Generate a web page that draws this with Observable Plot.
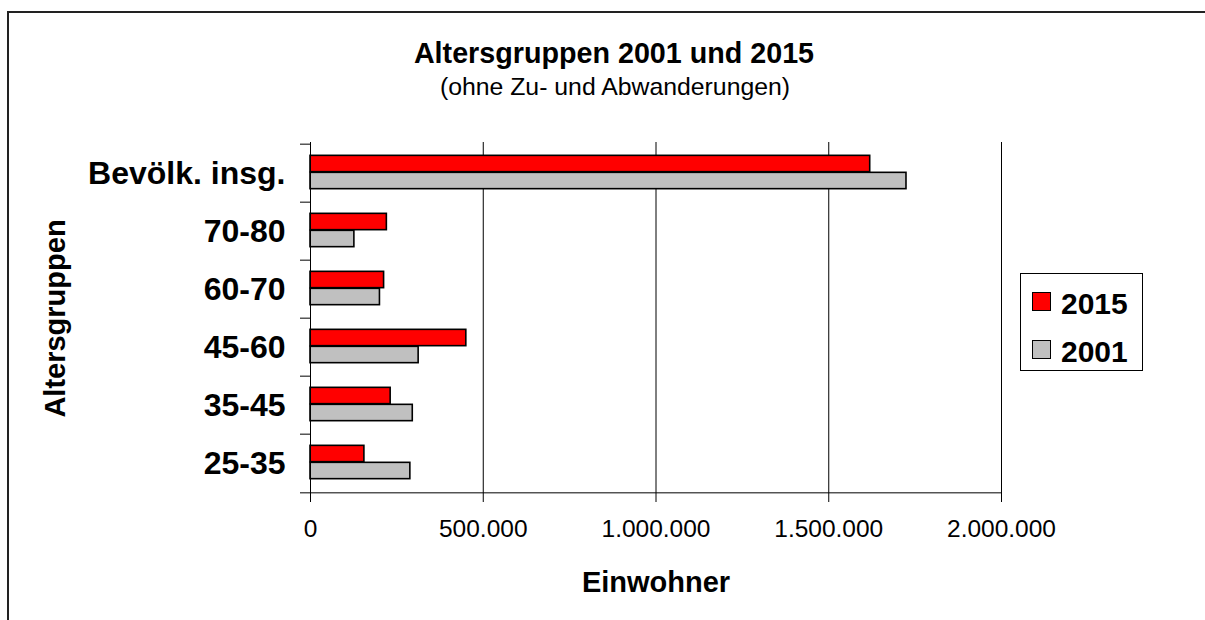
<!DOCTYPE html>
<html>
<head>
<meta charset="utf-8">
<script src="https://cdn.jsdelivr.net/npm/d3@7"></script>
<script src="https://cdn.jsdelivr.net/npm/@observablehq/plot@0.6"></script>
<style>
  html, body { margin: 0; padding: 0; background: #fff; }
  #wrap { position: relative; width: 1205px; height: 620px; overflow: hidden; font-family: "Liberation Sans", Arial, sans-serif; color: #000; }
  #border { position: absolute; left: 7px; top: 11px; width: 1300px; height: 700px; border-left: 2px solid #222; border-top: 2px solid #222; }
  .t { position: absolute; white-space: nowrap; }
  #chart { position: absolute; left: 0; top: 0; }
  .sw { position: absolute; width: 17px; height: 17px; border: 1.5px solid #000; }
</style>
</head>
<body>
<div id="wrap">
  <div id="border"></div>
  <div id="chart"></div>
</div>
<script>
// ---- data ----
const categories = ["Bevölk. insg.", "70-80", "60-70", "45-60", "35-45", "25-35"];
const values2015 = [1620000, 221000, 213000, 451000, 232000, 156000];
const values2001 = [1725000, 127000, 201000, 313000, 296000, 289000];
const years = ["2015", "2001"];
const colors = ["#ff0000", "#c0c0c0"];
const xTicks = [0, 500000, 1000000, 1500000, 2000000];
const title = "Altersgruppen 2001 und 2015";
const subtitle = "(ohne Zu- und Abwanderungen)";
const xLabel = "Einwohner";
const yLabel = "Altersgruppen";

// ---- layout ----
const W = 1205, H = 620;
const mL = 310, mR = 204, mT = 142, mB = 126;
const bw = (H - mT - mB) / categories.length;
const barH = 17, gap = (bw - 2 * barH) / 2 - 1;

const de = d3.formatLocale({decimal: ",", thousands: ".", grouping: [3], currency: ["", " €"]});
const fmt = de.format(",d");

const rows2015 = categories.map((c, i) => ({cat: c, v: values2015[i]}));
const rows2001 = categories.map((c, i) => ({cat: c, v: values2001[i]}));

const tickLen = 8 / (W - mL - mR) * (xTicks[xTicks.length - 1] - xTicks[0]);

const chart = Plot.plot({
  width: W, height: H,
  marginLeft: mL, marginRight: mR, marginTop: mT, marginBottom: mB,
  style: {fontFamily: "'Liberation Sans', Arial, sans-serif", color: "#000", background: "transparent", overflow: "visible"},
  x: {domain: [xTicks[0], xTicks[xTicks.length - 1]]},
  y: {domain: categories, padding: 0},
  marks: [
    Plot.ruleX(xTicks.slice(1), {stroke: "#000", strokeWidth: 1}),
    Plot.barX(rows2015, {y: "cat", x: "v", fill: colors[0], stroke: "#000", strokeWidth: 1.6, insetTop: gap, insetBottom: bw - gap - barH}),
    Plot.barX(rows2001, {y: "cat", x: "v", fill: colors[1], stroke: "#000", strokeWidth: 1.6, insetTop: gap + barH, insetBottom: bw - gap - 2 * barH}),
    Plot.ruleX([0], {stroke: "#000", strokeWidth: 1}),
    Plot.ruleY(categories, {dy: -bw / 2, x1: -tickLen * 1.25, x2: 0, stroke: "#000", strokeWidth: 1}),
    Plot.ruleY(categories.slice(-1), {dy: bw / 2, x1: -tickLen * 1.25, x2: xTicks[xTicks.length - 1], stroke: "#000", strokeWidth: 1}),
    Plot.axisX(xTicks, {tickSize: 8, tickPadding: 17, tickFormat: fmt, fontSize: 24.5, label: null, stroke: "#000"}),
    Plot.axisY({tickSize: 0, tickPadding: 25, fontSize: 32, fontWeight: "bold", label: null})
  ]
});
document.getElementById("chart").appendChild(chart);

// ---- text overlays ----
const wrap = document.getElementById("wrap");
function addText(txt, {cx, baseline, size, bold, rotate}) {
  const d = document.createElement("div");
  d.className = "t";
  d.textContent = txt;
  d.style.fontSize = size + "px";
  d.style.lineHeight = size + "px";
  d.style.fontWeight = bold ? "bold" : "normal";
  d.style.width = "600px";
  d.style.textAlign = "center";
  d.style.left = (cx - 300) + "px";
  if (rotate) {
    d.style.top = (baseline - size / 2) + "px";
    d.style.transform = "rotate(-90deg)";
    d.style.transformOrigin = "50% 50%";
  } else {
    d.style.top = (baseline - 0.8465 * size) + "px";
  }
  wrap.appendChild(d);
}
addText(title, {cx: 614, baseline: 63, size: 28.7, bold: true});
addText(subtitle, {cx: 615, baseline: 96, size: 24.8});
addText(xLabel, {cx: 656, baseline: 593, size: 29, bold: true});
addText(yLabel, {cx: 55, baseline: 318, size: 29, bold: true, rotate: true});

// ---- legend ----
const lg = document.createElement("div");
lg.style.cssText = "position:absolute;left:1020px;top:273px;width:121px;height:96px;border:1px solid #000;background:#fff;";
wrap.appendChild(lg);
years.forEach((y, i) => {
  const sw = document.createElement("div");
  sw.className = "sw";
  sw.style.left = "11px";
  sw.style.top = (18 + i * 48) + "px";
  sw.style.background = colors[i];
  lg.appendChild(sw);
  const t = document.createElement("div");
  t.className = "t";
  t.textContent = y;
  t.style.cssText += "font-size:30px;line-height:30px;font-weight:bold;left:40px;top:" + (40 + i * 48 - 0.8465 * 30) + "px;";
  lg.appendChild(t);
});
</script>
</body>
</html>
